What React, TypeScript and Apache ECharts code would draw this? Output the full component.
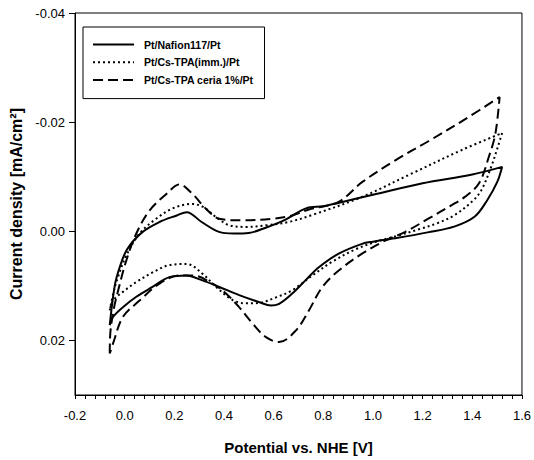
import React, { useEffect, useRef } from "react";
import * as echarts from "echarts";

// Series names
const seriesNames = ["Pt/Nafion117/Pt", "Pt/Cs-TPA(imm.)/Pt", "Pt/Cs-TPA ceria 1%/Pt"];

// Cyclic voltammograms: [potential V, current density mA/cm2]
const nafion: [number, number][] = [
  [-0.06, 0.0172], [-0.04, 0.0100], [-0.02, 0.0066], [0.01, 0.0033], [0.07, 0.0002],
  [0.14, -0.0017], [0.21, -0.0029], [0.25, -0.0035], [0.31, -0.0017], [0.38, 0.0001],
  [0.44, 0.0004], [0.50, 0.0003], [0.57, -0.0007], [0.65, -0.0022], [0.73, -0.0042],
  [0.80, -0.0046], [0.86, -0.0052], [1.00, -0.0067], [1.20, -0.0088], [1.40, -0.0104],
  [1.52, -0.0118], [1.50, -0.0090], [1.46, -0.0057], [1.41, -0.0027], [1.33, -0.0009],
  [1.22, 0.0002], [1.10, 0.0012], [1.00, 0.0019], [0.956, 0.0023], [0.862, 0.0041],
  [0.782, 0.0066], [0.728, 0.0090], [0.675, 0.0114], [0.622, 0.0133], [0.589, 0.0136],
  [0.543, 0.0130], [0.461, 0.0117], [0.381, 0.0102], [0.313, 0.0090], [0.248, 0.0081],
  [0.18, 0.0084], [0.112, 0.0102], [0.047, 0.0120], [-0.007, 0.0139], [-0.047, 0.0157],
  [-0.06, 0.0172],
];

const csTpa: [number, number][] = [
  [-0.06, 0.0145], [-0.045, 0.0112], [-0.027, 0.0084], [0.007, 0.0044], [0.06, 0.0004],
  [0.127, -0.0023], [0.194, -0.0042], [0.27, -0.0050], [0.314, -0.0045], [0.368, -0.0026],
  [0.421, -0.0011], [0.49, -0.0008], [0.57, -0.0011], [0.66, -0.0017], [0.756, -0.0030],
  [0.956, -0.0063], [1.157, -0.0106], [1.358, -0.0149], [1.52, -0.0180], [1.503, -0.0155],
  [1.476, -0.0118], [1.436, -0.0075], [1.40, -0.0055], [1.33, -0.0030], [1.26, -0.0015],
  [1.18, -0.0003], [1.10, 0.0008], [1.02, 0.0018], [0.93, 0.0033], [0.835, 0.0056],
  [0.756, 0.0081], [0.675, 0.0108], [0.61, 0.0121], [0.545, 0.0131], [0.49, 0.0132],
  [0.435, 0.0126], [0.368, 0.0102], [0.314, 0.0078], [0.25, 0.0060], [0.18, 0.0062],
  [0.114, 0.0075], [0.047, 0.0093], [-0.007, 0.0111], [-0.047, 0.0127], [-0.06, 0.0145],
];

const ceria: [number, number][] = [
  [-0.06, 0.0224], [-0.058, 0.0188], [-0.045, 0.0145], [-0.027, 0.0110], [0.007, 0.0053],
  [0.047, 0.0004], [0.10, -0.0038], [0.167, -0.0068], [0.221, -0.0086], [0.274, -0.0068],
  [0.328, -0.0041], [0.381, -0.0023], [0.475, -0.0020], [0.595, -0.0023], [0.675, -0.0029],
  [0.742, -0.0040], [0.862, -0.0054], [0.956, -0.0090], [1.09, -0.0130], [1.223, -0.0165],
  [1.37, -0.0205], [1.51, -0.0246], [1.493, -0.0179], [1.467, -0.0137], [1.427, -0.0088],
  [1.37, -0.0063], [1.317, -0.0048], [1.223, -0.0023], [1.13, 0.0001], [1.049, 0.0017],
  [0.956, 0.0041], [0.862, 0.0072], [0.796, 0.0102], [0.742, 0.0145], [0.689, 0.0182],
  [0.622, 0.0203], [0.569, 0.0194], [0.515, 0.0169], [0.461, 0.0139], [0.408, 0.0114],
  [0.354, 0.0096], [0.274, 0.0081], [0.221, 0.0081], [0.14, 0.0096], [0.06, 0.0127],
  [-0.007, 0.0157], [-0.047, 0.0206], [-0.06, 0.0224],
];

// Axis tick values
const yTickValues = [-0.04, -0.02, 0, 0.02];

const FONT = "'Liberation Sans', Arial, sans-serif";

export default function App() {
  const ref = useRef<HTMLDivElement>(null);
  useEffect(() => {
    if (!ref.current) return;
    const chart = echarts.init(ref.current, undefined, { renderer: "svg" });
    const lineTypes: any[] = ["solid", [2, 3], [10, 5]];
    const datasets = [nafion, csTpa, ceria];
    chart.setOption({
      animation: false,
      backgroundColor: "#fff",
      textStyle: { fontFamily: FONT },
      grid: {
        left: 74,
        right: 11,
        top: 13,
        bottom: 65,
        show: true,
        borderColor: "#000",
        borderWidth: 1,
        backgroundColor: "transparent",
      },
      legend: {
        orient: "vertical",
        left: 83,
        top: 27,
        padding: [12, 11, 13, 9],
        itemGap: 6.5,
        itemWidth: 41,
        itemHeight: 14,
        borderColor: "#000",
        borderWidth: 1,
        itemStyle: { opacity: 0, borderWidth: 0 },
        textStyle: {
          fontFamily: FONT,
          fontWeight: "bold",
          fontSize: 10.5,
          color: "#000",
          padding: [0, 0, 0, 5],
        },
        data: seriesNames,
      },
      xAxis: {
        type: "value",
        min: -0.2,
        max: 1.6,
        interval: 0.2,
        name: "Potential vs. NHE [V]",
        nameLocation: "middle",
        nameGap: 45,
        nameTextStyle: { fontFamily: FONT, fontWeight: "bold", fontSize: 15, color: "#000" },
        axisLine: { onZero: false, lineStyle: { color: "#000", width: 1 } },
        axisTick: { show: true, length: 4, lineStyle: { color: "#000" } },
        minorTick: { show: true, splitNumber: 5, length: 4, lineStyle: { color: "#000" } },
        splitLine: { show: false },
        axisLabel: {
          color: "#000",
          fontSize: 13,
          fontFamily: FONT,
          margin: 14,
          formatter: (v: number) => v.toFixed(1),
        },
      },
      yAxis: {
        type: "value",
        inverse: true,
        min: -0.04,
        max: 0.03,
        interval: 0.02,
        name: "Current density [mA/cm²]",
        nameLocation: "middle",
        nameRotate: 90,
        nameGap: 51,
        nameTextStyle: { fontFamily: FONT, fontWeight: "bold", fontSize: 16, color: "#000" },
        axisLine: { onZero: false, lineStyle: { color: "#000", width: 1 } },
        axisTick: { show: true, length: 6, customValues: yTickValues, lineStyle: { color: "#000" } },
        splitLine: { show: false },
        axisLabel: {
          color: "#000",
          fontSize: 13,
          fontFamily: FONT,
          margin: 10,
          customValues: yTickValues,
          formatter: (v: number) => (Math.abs(v - 0.03) < 1e-9 ? "" : v.toFixed(2)),
        },
      },
      series: datasets.map((d, i) => ({
        name: seriesNames[i],
        type: "line",
        data: d,
        smooth: 0.35,
        showSymbol: false,
        symbol: "none",
        lineStyle: { color: "#000", width: 2, type: lineTypes[i] },
        itemStyle: { color: "#000" },
        z: 3 - i,
      })),
    });
    return () => chart.dispose();
  }, []);
  return (
    <div
      ref={ref}
      style={{ position: "fixed", left: 0, top: 0, width: 534, height: 460, background: "#fff" }}
    />
  );
}
